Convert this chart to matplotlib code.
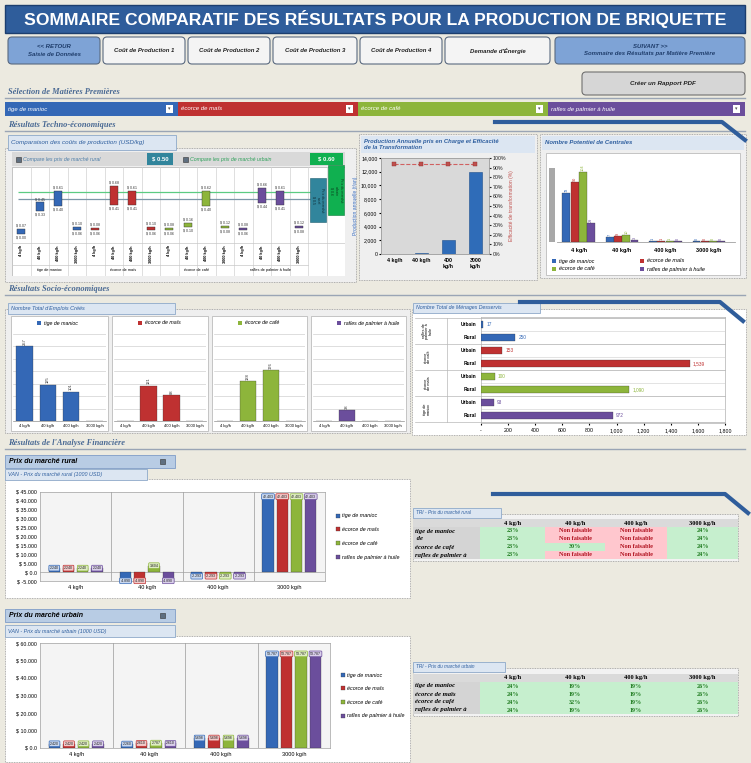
import numpy as np
import matplotlib.pyplot as plt
from matplotlib import font_manager
from matplotlib.patches import Rectangle, FancyBboxPatch
from matplotlib.ticker import FuncFormatter

plt.rcParams['font.family'] = ['Liberation Sans', 'DejaVu Sans']

W, H = 751, 763

feedstocks = ['tige de manioc', 'écorce de maïs', 'écorce de café', 'rafles de palmier à huile']
capacities = ['4 kg/h', '40 kg/h', '400 kg/h', '3000 kg/h']
colors = ['#3468B6', '#BF3131', '#8DB53B', '#6B4E9C']
light = ['#C9D8F0', '#F3C9C9', '#DFEDC4', '#D9CFEA']

# cout de production (USD/kg), min et max par matiere premiere et capacite
cost_low = [[0.00, 0.33, 0.40, 0.06],
            [0.06, 0.41, 0.41, 0.06],
            [0.06, 0.10, 0.40, 0.08],
            [0.06, 0.44, 0.41, 0.08]]
cost_high = [[0.07, 0.45, 0.61, 0.10],
             [0.08, 0.68, 0.61, 0.10],
             [0.08, 0.16, 0.62, 0.12],
             [0.08, 0.66, 0.61, 0.12]]
price_rural = 0.50
price_urban = 0.60

production = [15, 150, 2100, 12000]
efficiency = [0.94, 0.94, 0.94, 0.94]

plants = [[73, 7, 1, 0], [90, 9, 1, 0], [104, 10, 1, 0], [29, 3, 0, 0]]

jobs = [[257, 125, 101, 0], [0, 121, 88, 0], [0, 138, 176, 0], [0, 38, 0, 0]]

hh_urban = [17, 153, 100, 93]
hh_rural = [250, 1539, 1090, 972]
hh_groups = ['rafles de\npalmier à\nhuile', 'écorce\nde café', 'écorce\nde maïs', 'tige de\nmanioc']

van_rural = [[2240, -4890, -2293, 42403],
             [2240, -4890, -2293, 42403],
             [2240, 3604, -2293, 42403],
             [2240, -4890, -2293, 42403]]
van_urban = [[2420, 2260, 5698, 53787],
             [2420, 2610, 5698, 53787],
             [2420, 2787, 5698, 53787],
             [2420, 2610, 5698, 53787]]

tri_rural_rows = ['tige de manioc', ' de', 'écorce de café', 'rafles de palmier à']
tri_rural = [['23%', 'Non faisable', 'Non faisable', '24%'],
             ['23%', 'Non faisable', 'Non faisable', '24%'],
             ['23%', '30%', 'Non faisable', '24%'],
             ['23%', 'Non faisable', 'Non faisable', '24%']]
tri_urban_rows = ['tige de manioc', 'écorce de maïs', 'écorce de café', 'rafles de palmier à']
tri_urban = [['24%', '19%', '19%', '26%'],
             ['24%', '19%', '19%', '26%'],
             ['24%', '32%', '19%', '26%'],
             ['24%', '19%', '19%', '26%']]

names = {f.name for f in font_manager.fontManager.ttflist}
if 'Liberation Sans Narrow' in names:
    title_font, title_size = 'Liberation Sans Narrow', 15
else:
    title_font, title_size = 'Liberation Sans', 12.6

fig = plt.figure(figsize=(W / 100, H / 100), dpi=100)
fig.patch.set_facecolor('#ECEAE0')

bg = fig.add_axes([0, 0, 1, 1], zorder=0)
bg.set_xlim(0, W)
bg.set_ylim(H, 0)
bg.axis('off')


def frac(x0, y0, x1, y1):
    return [x0 / W, 1 - y1 / H, (x1 - x0) / W, (y1 - y0) / H]


def box(x0, y0, x1, y1, fc, ec='none', lw=0.5, ls='-', rounded=False, z=1):
    if rounded:
        p = FancyBboxPatch((x0, y0), x1 - x0, y1 - y0, boxstyle='round,pad=0,rounding_size=4',
                           fc=fc, ec=ec, lw=lw, zorder=z)
    else:
        p = Rectangle((x0, y0), x1 - x0, y1 - y0, fc=fc, ec=ec, lw=lw, ls=ls, zorder=z)
    bg.add_patch(p)


def panel(x0, y0, x1, y1, fc='#EFEFEF'):
    box(x0, y0, x1, y1, fc, '#9A9A9A', lw=0.6, ls=(0, (1, 1)))


def tab(x0, y0, x1, y1, title, fs=4.5):
    box(x0, y0, x1, y1, '#DCE6F2', '#8EA9C9', lw=0.6, z=2)
    bg.text(x0 + 3, (y0 + y1) / 2, title, fontsize=fs, style='italic', color='#2E5E9E',
            va='center', ha='left', zorder=3)


def section(y, title):
    bg.text(8, y, title, fontsize=6, style='italic', fontweight='bold', color='#4A6A94',
            va='center', family=['Liberation Serif', 'DejaVu Serif'])
    bg.plot([5, 745], [y + 6, y + 6], color='#9AA5B5', lw=1)


def checkbox(x, y):
    box(x - 2.5, y - 2.5, x + 2.5, y + 2.5, '#5F6F80', '#333333', lw=0.4, z=3)


def eu(v):
    return f'{v / 1000:.3f}'


# ---- titre et boutons
box(5, 5, 745, 33, '#2F5D9B', '#1C3E6E', lw=1)
bg.text(375, 19.5, 'SOMMAIRE COMPARATIF DES RÉSULTATS POUR LA PRODUCTION DE BRIQUETTE',
        fontsize=title_size, fontweight='bold', color='white', ha='center', va='center', family=title_font)

buttons = [('<< RETOUR\nSaisie de Données', 8, 100, True),
           ('Coût de Production 1', 103, 185, False),
           ('Coût de Production 2', 188, 270, False),
           ('Coût de Production 3', 273, 357, False),
           ('Coût de Production 4', 360, 442, False),
           ("Demande d'Énergie", 445, 550, False),
           ('SUIVANT >>\nSommaire des Résultats par Matière Première', 555, 745, True)]
for label, x0, x1, blue in buttons:
    box(x0, 37, x1, 64, '#7EA3D6' if blue else '#F4F4F4', '#5A6A80', lw=0.8, rounded=True)
    bg.text((x0 + x1) / 2, 50.5, label, fontsize=4.3, style='italic', fontweight='bold',
            color='#1F3D6B' if blue else '#222222', ha='center', va='center', linespacing=1.5)

box(582, 72, 745, 95, '#D6D6D6', '#707070', lw=0.8, rounded=True)
bg.text(663, 83.5, 'Créer un Rapport PDF', fontsize=4.5, style='italic', fontweight='bold',
        color='#222222', ha='center', va='center')

section(92, 'Sélection de Matières Premières')
sel = [(5, 178), (178, 358), (358, 548), (548, 745)]
for k, (x0, x1) in enumerate(sel):
    box(x0, 102, x1, 116, colors[k])
    bg.text(x0 + 3, 109, feedstocks[k], fontsize=4.3, style='italic', color='white', va='center')
    box(x1 - 12, 105, x1 - 5, 113, 'white', 'none', z=2)
    bg.text(x1 - 8.5, 109, '▾', fontsize=3.5, ha='center', va='center', color='#555555', zorder=3)

section(125, 'Résultats Techno-économiques')
bg.plot([495, 722, 745], [122, 122, 140], color='#2F5D9B', lw=3, zorder=4)

# ---- comparaison des couts
panel(5, 148, 356, 282)
tab(8, 135, 176, 150, 'Comparaison des coûts de production (USD/kg)')
box(12, 152, 345, 166, '#D9D9D9')
checkbox(18, 159)
bg.text(23, 159, 'Compare les prix de marché rural', fontsize=3.8, style='italic', color='#4E7EA8', va='center')
box(147, 153, 173, 165, '#31859C')
bg.text(160, 159, f'$ {price_rural:.2f}', fontsize=4.2, fontweight='bold', color='white', ha='center', va='center')
checkbox(185, 159)
bg.text(190, 159, 'Compare les prix de marché urbain', fontsize=3.8, style='italic', color='#2EA05A', va='center')
box(310, 153, 343, 165, '#10B050')
bg.text(326.5, 159, f'$ {price_urban:.2f}', fontsize=4.2, fontweight='bold', color='white', ha='center', va='center')

ax1 = fig.add_axes(frac(12, 167, 345, 276), zorder=2)
ax1.set_xlim(-0.5, 17.5)
ax1.set_ylim(-0.6, 0.957)
ax1.axis('off')
ax1.add_patch(Rectangle((-0.5, -0.6), 18, 1.56, fc='white', ec='#B0B0B0', lw=0.5, zorder=0))
for i in range(17):
    ax1.plot([i + 0.5, i + 0.5], [-0.6, 0.957], color='#D2D2D2', lw=0.5, zorder=1)
ax1.plot([-0.5, 17.5], [-0.13, -0.13], color='#C8C8C8', lw=0.5)
ax1.plot([-0.5, 15.5], [-0.44, -0.44], color='#C8C8C8', lw=0.5)
ax1.hlines(price_urban, -0.2, 16, color='#5CCB82', lw=0.9, zorder=2)
ax1.hlines(price_rural, -0.2, 16, color='#7C97A8', lw=0.9, zorder=2)
for g in range(4):
    for c in range(4):
        i = g * 4 + c
        lo, hi = cost_low[g][c], cost_high[g][c]
        ax1.add_patch(Rectangle((i - 0.22, lo), 0.44, max(hi - lo, 0.012), fc=colors[g],
                                ec='#333333', lw=0.3, zorder=3))
        ax1.text(i, hi + 0.02, f'$ {hi:.2f}', fontsize=2.6, ha='center', va='bottom', color='#333333')
        ax1.text(i, lo - 0.02, f'$ {lo:.2f}', fontsize=2.6, ha='center', va='top', color='#333333')
        ax1.text(i, -0.16, capacities[c], fontsize=2.8, rotation=90, ha='center', va='top', fontweight='bold')
    ax1.text(g * 4 + 1.5, -0.52, feedstocks[g], fontsize=2.8, ha='center', va='center')
ax1.add_patch(Rectangle((15.6, 0.17), 0.85, 0.63, fc='#31859C', ec='#1F5F70', lw=0.4, zorder=4))
ax1.text(16.02, 0.48, f'Prix du marché\nrural\n$ {price_rural:.1f}', rotation=270, fontsize=2.6,
         ha='center', va='center', color='#0D2A33', zorder=5)
ax1.add_patch(Rectangle((16.6, 0.27), 0.85, 0.72, fc='#10B050', ec='#0A7A38', lw=0.4, zorder=4, clip_on=False))
ax1.text(17.02, 0.62, f'Prix du marché\nurbain\n$ {price_urban:.1f}', rotation=270, fontsize=2.6,
         ha='center', va='center', color='#0B3A1C', zorder=5)

# ---- production annuelle
panel(359, 134, 537, 280)
box(361, 136, 535, 153, '#DCE6F2')
bg.text(364, 144.5, 'Production Annuelle pris en Charge et Efficacité\nde la Transformation', fontsize=4.2,
        style='italic', fontweight='bold', color='#2E5E9E', va='center', linespacing=1.2)
ax2 = fig.add_axes(frac(381, 158, 489, 254), zorder=2)
ax2.set_facecolor('#D9D9D9')
ax2.bar(range(4), production, width=0.5, color='#2F6CB8', edgecolor='#1E4E8C', lw=0.4)
ax2.set_ylim(0, 14000)
ax2.set_yticks(range(0, 14001, 2000))
ax2.yaxis.set_major_formatter(FuncFormatter(lambda v, p: f'{v:,.0f}'))
ax2.set_xlim(-0.5, 3.5)
ax2.set_xticks(range(4), ['4 kg/h', '40 kg/h', '400\nkg/h', '3000\nkg/h'])
ax2.tick_params(axis='x', labelsize=3.8, length=0, pad=3)
ax2.tick_params(axis='y', labelsize=3.8, length=1.5, pad=1)
for lab in ax2.get_xticklabels():
    lab.set_fontweight('bold')
ax2.set_ylabel('Production annuelle (t/an)', fontsize=3.6, color='#3A6FC0', labelpad=2)
ax2b = ax2.twinx()
ax2b.plot(range(4), efficiency, color='#D06060', ls='--', lw=0.8, marker='s', ms=2.6,
          mfc='#C0504D', mec='#8B2E2C', mew=0.3)
ax2b.set_ylim(0, 1)
ax2b.set_yticks(np.arange(0, 1.01, 0.1))
ax2b.yaxis.set_major_formatter(FuncFormatter(lambda v, p: f'{v:.0%}'))
ax2b.tick_params(axis='y', labelsize=3.8, length=1.5, pad=1, colors='#222222')
ax2b.set_ylabel('Efficacité de transformation (%)', fontsize=3.6, color='#C0504D', labelpad=2)
for a in (ax2, ax2b):
    for s in a.spines.values():
        s.set_color('#A0A0A0')
        s.set_linewidth(0.5)

# ---- nombre de centrales
panel(540, 134, 746, 278)
box(542, 136, 744, 150, '#DCE6F2')
bg.text(545, 143, 'Nombre Potentiel de Centrales', fontsize=4.3, style='italic', fontweight='bold',
        color='#2E5E9E', va='center')
box(546, 153, 740, 275, 'white', '#B0B0B0', lw=0.5)
box(549, 168, 555, 242, '#A8A8A8', z=2)
ax3 = fig.add_axes(frac(557, 165, 735, 242), zorder=2)
xc = np.arange(4)
bw = 0.19
for k in range(4):
    ax3.bar(xc + (k - 1.5) * bw, np.maximum(plants[k], 0.8), bw * 0.95, color=colors[k],
            edgecolor='#333333', lw=0.2)
    for xi, v in zip(xc, plants[k]):
        ax3.text(xi + (k - 1.5) * bw, max(v, 0.8) + 1.5, str(v), fontsize=2.8, rotation=90,
                 ha='center', va='bottom', color=colors[k])
ax3.set_ylim(0, 115)
ax3.set_xlim(-0.5, 3.6)
ax3.set_facecolor('white')
ax3.set_yticks([])
ax3.set_xticks(xc, capacities)
ax3.tick_params(axis='x', labelsize=4, length=0, pad=4)
for lab in ax3.get_xticklabels():
    lab.set_fontweight('bold')
for s in ('top', 'right', 'left'):
    ax3.spines[s].set_visible(False)
ax3.spines['bottom'].set_color('#A0A0A0')
ax3.spines['bottom'].set_linewidth(0.6)
leg_pos = [(552, 261), (640, 261), (552, 269), (640, 269)]
for k, (lx, ly) in enumerate(leg_pos):
    box(lx, ly - 2, lx + 4, ly + 2, colors[k], z=2)
    bg.text(lx + 7, ly, feedstocks[k], fontsize=4, style='italic', va='center')

# ---- socio-economique
section(289, 'Résultats Socio-économiques')
bg.plot([520, 720, 743], [302, 302, 321], color='#2F5D9B', lw=3, zorder=4)

panel(5, 309, 410, 433)
tab(8, 303, 175, 314, "Nombre Total d'Emplois Créés", fs=4)
sub_x = [(11, 108), (112, 208), (212, 307), (311, 406)]
for k, (x0, x1) in enumerate(sub_x):
    box(x0, 316, x1, 431, 'white', '#B0B0B0', lw=0.5)
    box(x0 + 26, 321, x0 + 30, 325, colors[k], z=2)
    bg.text(x0 + 33, 323, feedstocks[k], fontsize=3.8, style='italic', va='center')
    ax = fig.add_axes(frac(x0 + 2, 334, x1 - 2, 421), zorder=2)
    ax.bar(range(4), jobs[k], 0.7, color=colors[k], edgecolor='#333333', lw=0.2, zorder=3)
    for xi, v in enumerate(jobs[k]):
        if v > 0:
            ax.text(xi, v + 5, str(v), fontsize=3, rotation=90, ha='center', va='bottom', color='#333333')
    ax.set_ylim(0, 300)
    ax.set_xlim(-0.5, 3.5)
    ax.set_yticks(np.linspace(0, 300, 8))
    ax.yaxis.grid(True, color='#D0D0D0', lw=0.5)
    ax.tick_params(axis='y', length=0, labelleft=False)
    ax.set_xticks(range(4), capacities)
    ax.tick_params(axis='x', labelsize=3, length=0, pad=2)
    for s in ('top', 'right', 'left'):
        ax.spines[s].set_visible(False)
    ax.spines['bottom'].set_color('#909090')
    ax.spines['bottom'].set_linewidth(0.5)

panel(412, 309, 746, 435, fc='white')
tab(413, 303, 540, 313, 'Nombre Total de Ménages Desservis', fs=3.8)
ax5 = fig.add_axes(frac(481, 317, 725, 423), zorder=2)
ypos = np.arange(8)
hh_vals = [v for pair in zip(hh_urban, hh_rural) for v in pair]
hh_cols = [colors[k] for k in range(4) for _ in range(2)]
ax5.barh(ypos, hh_vals, height=0.55, color=hh_cols, edgecolor='#333333', lw=0.2, zorder=3)
for yi, v, c in zip(ypos, hh_vals, hh_cols):
    ax5.text(v + 25, yi, f'{v:,}', fontsize=3.4, color=c, va='center')
ax5.set_xlim(0, 1800)
ax5.set_ylim(7.55, -0.55)
ax5.set_xticks(range(0, 1801, 200))
ax5.xaxis.set_major_formatter(FuncFormatter(lambda v, p: '-' if v == 0 else f'{v:,.0f}'))
ax5.tick_params(axis='x', labelsize=3.8, length=1.5, pad=2)
ax5.set_yticks([])
for yi in np.arange(-0.5, 8, 1):
    ax5.axhline(yi, color='#D8D8D8', lw=0.5, zorder=1)
ytr = ax5.get_yaxis_transform()
for yi in ypos:
    ax5.text(-0.02, yi, 'Urbain' if yi % 2 == 0 else 'Rural', transform=ytr, fontsize=3.5,
             fontweight='bold', ha='right', va='center')
for g in range(4):
    ax5.text(-0.22, 2 * g + 0.5, hh_groups[g], transform=ytr, fontsize=2.8, rotation=90,
             ha='center', va='center', linespacing=0.9)
    ax5.plot([-0.27, 1], [2 * g + 1.5] * 2, transform=ytr, color='#B8B8B8', lw=0.5, clip_on=False)
ax5.plot([-0.27, 1], [-0.5, -0.5], transform=ytr, color='#B8B8B8', lw=0.5, clip_on=False)
ax5.plot([-0.14, -0.14], [-0.5, 7.5], transform=ytr, color='#B8B8B8', lw=0.5, clip_on=False)
for s in ax5.spines.values():
    s.set_color('#B0B0B0')
    s.set_linewidth(0.5)

# ---- analyse financiere
section(443, "Résultats de l'Analyse Financière")
bg.plot([493, 725, 748], [494, 494, 513], color='#2F5D9B', lw=3, zorder=4)


def van_chart(axpos, data, lo, hi, step):
    ax = fig.add_axes(axpos, zorder=2)
    ax.set_facecolor('#F4F4F4')
    xg = np.arange(4)
    w = 0.2
    for k in range(4):
        ax.bar(xg + (k - 1.5) * w, data[k], w * 0.8, color=colors[k], edgecolor='#333333',
               lw=0.2, label=feedstocks[k], zorder=3)
        for xi, v in zip(xg, data[k]):
            ax.text(xi + (k - 1.5) * w, v, eu(v), fontsize=2.5, ha='center', va='center',
                    color='#1A1A1A', zorder=4,
                    bbox=dict(boxstyle='round,pad=0.25', fc=light[k], ec=colors[k], lw=0.5))
    ax.set_xlim(-0.5, 3.5)
    ax.set_ylim(lo, hi)
    ax.set_yticks(np.arange(lo, hi + 1, step))
    ax.yaxis.set_major_formatter(FuncFormatter(lambda v, p: '$ 0.0' if v == 0 else f'$ {v / 1000:.3f}'))
    for xs in (0.5, 1.5, 2.5):
        ax.axvline(xs, color='#A8A8A8', lw=0.6, zorder=1)
    ax.axhline(0, color='#A0A0A0', lw=0.5, zorder=2)
    ax.set_xticks(xg, capacities)
    ax.tick_params(axis='x', labelsize=4, length=0, pad=3)
    ax.tick_params(axis='y', labelsize=3.8, length=0, pad=2)
    for s in ax.spines.values():
        s.set_color('#A0A0A0')
        s.set_linewidth(0.5)
    ax.legend(loc='center left', bbox_to_anchor=(1.02, 0.5), frameon=False,
              prop={'size': 3.9, 'style': 'italic'}, handlelength=0.8, handleheight=0.8,
              labelspacing=1.6, handletextpad=0.4)
    return ax


box(5, 455, 175, 468, '#B8CCE4', '#7F9DC7', lw=0.6)
bg.text(9, 461.5, 'Prix du marché rural', fontsize=5, style='italic', fontweight='bold', va='center')
checkbox(162, 461.5)
panel(5, 479, 410, 598, fc='white')
tab(5, 469, 147, 480, 'VAN - Prix du marché rural (1000 USD)', fs=3.9)
van_chart(frac(40, 492, 325, 581), van_rural, -5000, 45000, 5000)

box(5, 609, 175, 622, '#B8CCE4', '#7F9DC7', lw=0.6)
bg.text(9, 615.5, 'Prix du marché urbain', fontsize=5, style='italic', fontweight='bold', va='center')
checkbox(162, 615.5)
panel(5, 636, 410, 762, fc='white')
tab(5, 625, 175, 637, 'VAN - Prix du marché urbain (1000 USD)', fs=3.9)
van_chart(frac(40, 643, 330, 748), van_urban, 0, 60000, 10000)


def tri_table(y_tab, y_head, title, rows, data):
    cols = [480, 545, 605, 667, 738]
    row_h = 8
    y_end = y_head + 4 + row_h * len(rows)
    panel(413, y_tab + 6, 738, y_end + 2, fc='#F2F2F2')
    tab(413, y_tab, 413 + 4 * len(title) * 0.85, y_tab + 10, title, fs=3.4)
    box(413, y_head - 4, 738, y_head + 4, '#DADADA')
    box(413, y_head + 4, 480, y_end, '#D4D4D4')
    for j, cap in enumerate(capacities):
        bg.text((cols[j] + cols[j + 1]) / 2, y_head, cap, fontsize=4.6, fontweight='bold',
                ha='center', va='center', family=['Liberation Serif', 'DejaVu Serif'])
    for i, name in enumerate(rows):
        yc = y_head + 4 + row_h * (i + 0.5)
        bg.text(415, yc, name, fontsize=4.8, fontweight='bold', style='italic', va='center',
                family=['Liberation Serif', 'DejaVu Serif'])
        for j, val in enumerate(data[i]):
            bad = val == 'Non faisable'
            box(cols[j], yc - row_h / 2, cols[j + 1], yc + row_h / 2, '#FFC7CE' if bad else '#C6EFCE')
            bg.text((cols[j] + cols[j + 1]) / 2, yc, val, fontsize=4.4, fontweight='bold',
                    color='#B0101E' if bad else '#1E7A1E', ha='center', va='center', zorder=3,
                    family=['Liberation Serif', 'DejaVu Serif'])


tri_table(508, 523, 'TRI - Prix du marché rural', tri_rural_rows, tri_rural)
tri_table(662, 678, 'TRI - Prix du marché urbain', tri_urban_rows, tri_urban)

fig.savefig('out.png', dpi=100, facecolor=fig.get_facecolor())
